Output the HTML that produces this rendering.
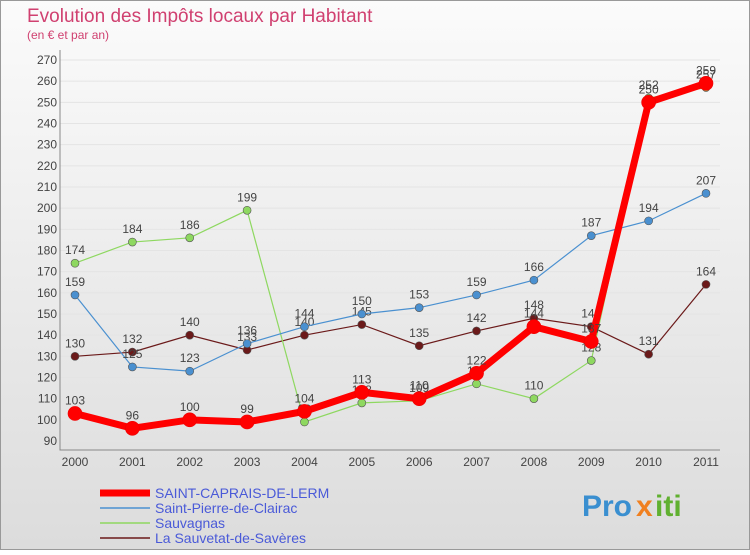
<!DOCTYPE html>
<html><head><meta charset="utf-8"><style>
body{margin:0;width:750px;height:550px;overflow:hidden;font-family:"Liberation Sans",sans-serif}
</style></head><body>
<svg width="750" height="550" xmlns="http://www.w3.org/2000/svg">
<defs><linearGradient id="bg" x1="0" y1="0" x2="0" y2="1"><stop offset="0" stop-color="#fbfbfb"/><stop offset="1" stop-color="#dcdcdc"/></linearGradient></defs>
<rect x="0.5" y="0.5" width="749" height="549" fill="url(#bg)" stroke="#999"/>
<text x="27" y="22" font-size="19" fill="#d04070">Evolution des Impôts locaux par Habitant</text>
<text x="27" y="39" font-size="12" fill="#d04070">(en € et par an)</text>
<g id="grid"></g><g id="axes"></g><g id="series"></g><g id="legend"></g>
<g font-size="30" font-weight="bold">
<text x="582" y="516" fill="#3a8fd0">Pro</text><text x="636" y="516" fill="#f08020">x</text><text x="655" y="516" fill="#60b030">iti</text>
</g>
</svg>
<script>
const years=["2000","2001","2002","2003","2004","2005","2006","2007","2008","2009","2010","2011"];
const yTicks=[90,100,110,120,130,140,150,160,170,180,190,200,210,220,230,240,250,260,270];
const saintCaprais=[103,96,100,99,104,113,110,122,144,137,250,259];
const saintPierre=[159,125,123,136,144,150,153,159,166,187,194,207];
const sauvagnas=[174,184,186,199,99,108,109,117,110,128,252,257];
const sauvetat=[130,132,140,133,140,145,135,142,148,144,131,164];
const names=["SAINT-CAPRAIS-DE-LERM","Saint-Pierre-de-Clairac","Sauvagnas","La Sauvetat-de-Savères"];
const NS="http://www.w3.org/2000/svg";
const X=i=>75+i*(706-75)/11, Y=v=>441-(v-90)*(441-60)/180;
function mk(t,a,p){const e=document.createElementNS(NS,t);for(const k in a)e.setAttribute(k,a[k]);document.getElementById(p).appendChild(e);return e;}
yTicks.forEach(v=>{
 const l=mk('line',{x1:60,x2:720,y1:Y(v),y2:Y(v),stroke:'#e4e4e4'},'grid');
 
 
 const t=mk('text',{x:57,y:Y(v)+4,'font-size':12,'text-anchor':'end',fill:'#444'},'axes');t.textContent=v;
 
 
});
years.forEach((y,i)=>{
 const t=mk('text',{x:X(i),y:466,'font-size':12,'text-anchor':'middle',fill:'#444'},'axes');t.textContent=y;
 
 
});
const a=mk('path',{d:'M60 50V450H720',fill:'none',stroke:'#888'},'axes');


const ser=[[sauvetat,'#6b1a1a',1.2,4,'#333'],[sauvagnas,'#8ed860',1.2,4,'#333'],[saintPierre,'#4a90d0',1.2,4,'#333'],[saintCaprais,'#ff0000',7,7,'#333']];
const order=[3,0,1,2];
ser.forEach((s,k)=>{
 const [d,c,w,r]=s;
 const p=mk('polyline',{points:d.map((v,i)=>X(i)+','+Y(v)).join(' '),fill:'none',stroke:c,'stroke-width':w},'series');
 
 
 d.forEach((v,i)=>{
  const m=mk('circle',{cx:X(i),cy:Y(v),r:r,fill:c,stroke:k==3?'#e00':'#555','stroke-width':0.6},'series');
  
  
  const t=mk('text',{x:X(i),y:Y(v)-9,'font-size':12,'text-anchor':'middle',fill:'#444'},'series');t.textContent=v;
  
  
 });
});
const lc=['#ff0000','#4a90d0','#8ed860','#6b1a1a'],lw=[7,1.5,1.5,1.5];
names.forEach((n,i)=>{
 const y=493+i*15;
 const l=mk('line',{x1:100,x2:150,y1:y,y2:y,stroke:lc[i],'stroke-width':lw[i]},'legend');
 
 
 const t=mk('text',{x:155,y:y+5,'font-size':14,fill:'#4a5ad8'},'legend');t.textContent=n;
 
 
});
</script>
</body></html>
